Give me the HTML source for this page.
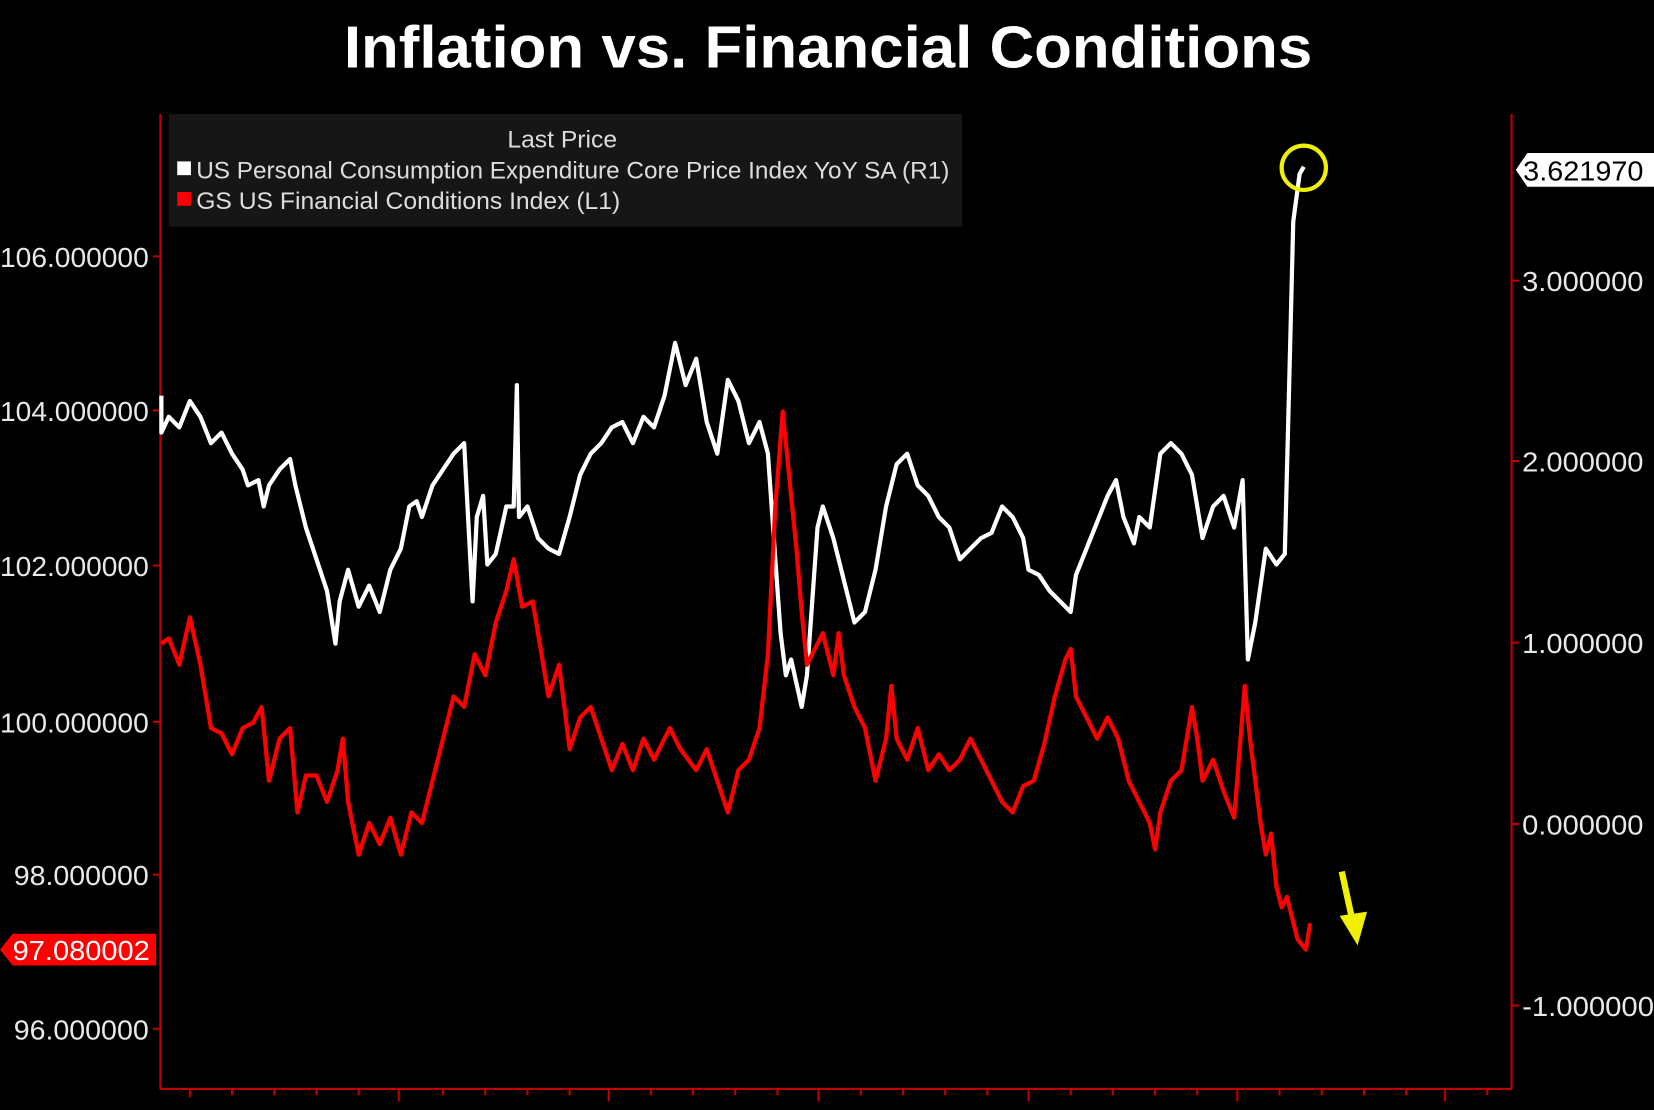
<!DOCTYPE html>
<html><head><style>html,body{margin:0;padding:0;background:#000;overflow:hidden}svg{display:block}</style></head>
<body>
<svg width="1654" height="1110" viewBox="0 0 1568 1052" preserveAspectRatio="none" xmlns="http://www.w3.org/2000/svg">
<rect width="1568" height="1052" fill="#000"/>
<text x="785" y="64" text-anchor="middle" fill="#fff" font-family="Liberation Sans, sans-serif" font-weight="bold" font-size="56" textLength="918" lengthAdjust="spacingAndGlyphs">Inflation vs. Financial Conditions</text>
<!-- axes -->
<line x1="152" y1="108" x2="152" y2="1032" stroke="#c00000" stroke-width="2"/>
<line x1="1433" y1="108" x2="1433" y2="1032" stroke="#c00000" stroke-width="2"/>
<line x1="152" y1="1032" x2="1433" y2="1032" stroke="#c00000" stroke-width="2"/>
<g stroke="#c00000" stroke-width="2">
<line x1="145" y1="243" x2="152" y2="243"/><line x1="145" y1="389" x2="152" y2="389"/><line x1="145" y1="536" x2="152" y2="536"/><line x1="145" y1="684" x2="152" y2="684"/><line x1="145" y1="829" x2="152" y2="829"/><line x1="145" y1="975" x2="152" y2="975"/>
<line x1="1433" y1="266" x2="1440" y2="266"/><line x1="1433" y1="437" x2="1440" y2="437"/><line x1="1433" y1="609" x2="1440" y2="609"/><line x1="1433" y1="781" x2="1440" y2="781"/><line x1="1433" y1="953" x2="1440" y2="953"/>
<line x1="180" y1="1032" x2="180" y2="1040"/><line x1="220" y1="1032" x2="220" y2="1038"/><line x1="260" y1="1032" x2="260" y2="1038"/><line x1="300" y1="1032" x2="300" y2="1038"/><line x1="340" y1="1032" x2="340" y2="1038"/><line x1="378" y1="1032" x2="378" y2="1044"/>
<line x1="420" y1="1032" x2="420" y2="1038"/><line x1="460" y1="1032" x2="460" y2="1038"/><line x1="500" y1="1032" x2="500" y2="1038"/><line x1="540" y1="1032" x2="540" y2="1038"/><line x1="577" y1="1032" x2="577" y2="1044"/>
<line x1="617" y1="1032" x2="617" y2="1038"/><line x1="657" y1="1032" x2="657" y2="1038"/><line x1="697" y1="1032" x2="697" y2="1038"/><line x1="737" y1="1032" x2="737" y2="1038"/><line x1="776" y1="1032" x2="776" y2="1044"/>
<line x1="816" y1="1032" x2="816" y2="1038"/><line x1="856" y1="1032" x2="856" y2="1038"/><line x1="896" y1="1032" x2="896" y2="1038"/><line x1="936" y1="1032" x2="936" y2="1038"/><line x1="975" y1="1032" x2="975" y2="1044"/>
<line x1="1015" y1="1032" x2="1015" y2="1038"/><line x1="1055" y1="1032" x2="1055" y2="1038"/><line x1="1095" y1="1032" x2="1095" y2="1038"/><line x1="1135" y1="1032" x2="1135" y2="1038"/><line x1="1173" y1="1032" x2="1173" y2="1044"/>
<line x1="1213" y1="1032" x2="1213" y2="1038"/><line x1="1253" y1="1032" x2="1253" y2="1038"/><line x1="1293" y1="1032" x2="1293" y2="1038"/><line x1="1333" y1="1032" x2="1333" y2="1038"/><line x1="1370" y1="1032" x2="1370" y2="1044"/><line x1="1410" y1="1032" x2="1410" y2="1038"/>
</g>
<g fill="#e8e8e8" font-family="Liberation Sans, sans-serif" font-size="26" lengthAdjust="spacingAndGlyphs">
<text x="0" y="253" textLength="141" lengthAdjust="spacingAndGlyphs">106.000000</text><text x="0" y="399" textLength="141" lengthAdjust="spacingAndGlyphs">104.000000</text><text x="0" y="546" textLength="141" lengthAdjust="spacingAndGlyphs">102.000000</text><text x="0" y="694" textLength="141" lengthAdjust="spacingAndGlyphs">100.000000</text><text x="13" y="839" textLength="128" lengthAdjust="spacingAndGlyphs">98.000000</text><text x="13" y="985" textLength="128" lengthAdjust="spacingAndGlyphs">96.000000</text>
</g>
<g fill="#e8e8e8" font-family="Liberation Sans, sans-serif" font-size="26">
<text x="1443" y="276" textLength="115" lengthAdjust="spacingAndGlyphs">3.000000</text><text x="1443" y="447" textLength="115" lengthAdjust="spacingAndGlyphs">2.000000</text><text x="1443" y="619" textLength="115" lengthAdjust="spacingAndGlyphs">1.000000</text><text x="1443" y="791" textLength="115" lengthAdjust="spacingAndGlyphs">0.000000</text><text x="1443" y="963" textLength="125" lengthAdjust="spacingAndGlyphs">-1.000000</text>
</g>
<!-- legend -->
<rect x="160" y="108" width="752" height="107" fill="#161616"/>
<text x="533" y="140" text-anchor="middle" fill="#ddd" font-family="Liberation Sans, sans-serif" font-size="23" textLength="104" lengthAdjust="spacingAndGlyphs">Last Price</text>
<rect x="168" y="153" width="13" height="13" fill="#fff"/>
<text x="186" y="169" fill="#ddd" font-family="Liberation Sans, sans-serif" font-size="23" textLength="714" lengthAdjust="spacingAndGlyphs">US Personal Consumption Expenditure Core Price Index YoY SA  (R1)</text>
<rect x="168" y="182" width="13" height="13" fill="#f00"/>
<text x="186" y="198" fill="#ddd" font-family="Liberation Sans, sans-serif" font-size="23" textLength="402" lengthAdjust="spacingAndGlyphs">GS US Financial Conditions Index  (L1)</text>
<!-- series -->
<polyline fill="none" stroke="#fff" stroke-width="4" stroke-linejoin="round" points="153,375 153,410 160,395 170,405 180,380 190,395 200,420 210,410 220,430 230,445 235,460 245,455 250,480 255,460 265,445 275,435 280,460 290,500 300,530 310,560 318,610 322,570 330,540 340,575 350,555 360,580 370,540 380,520 388,480 395,475 400,490 410,460 420,445 430,430 440,420 448,570 452,490 458,470 462,535 470,525 480,480 487,480 490,365 492,490 500,480 510,510 520,520 530,525 540,490 550,450 560,430 570,420 580,405 590,400 600,420 610,395 620,405 630,375 640,325 650,365 660,340 670,400 680,430 690,360 700,380 710,420 720,400 728,430 735,530 740,600 745,640 750,625 760,670 765,640 770,570 775,500 780,480 790,510 800,550 810,590 820,580 830,540 840,480 850,440 860,430 870,460 880,470 890,490 900,500 910,530 920,520 930,510 940,505 950,480 960,490 970,510 975,540 985,545 995,560 1005,570 1015,580 1020,545 1030,520 1040,495 1050,470 1058,455 1065,490 1075,515 1080,490 1090,500 1100,430 1110,420 1120,430 1130,450 1140,510 1150,480 1160,470 1170,500 1178,455 1183,625 1190,590 1200,520 1210,535 1218,525 1222,370 1226,210 1232,165 1236,158"/>
<polyline fill="none" stroke="#ff0000" stroke-width="4" stroke-linejoin="round" points="153,610 160,605 170,630 180,585 190,630 200,690 210,695 220,715 230,690 240,685 248,670 255,740 265,700 275,690 282,770 290,735 300,735 310,760 320,730 325,700 330,760 340,810 350,780 360,800 370,775 380,810 390,770 400,780 410,740 420,700 430,660 440,670 450,620 460,640 470,590 480,560 487,530 495,575 505,570 515,630 520,660 530,630 540,710 550,680 560,670 570,700 580,730 590,705 600,730 610,700 620,720 635,690 645,710 660,730 670,710 680,740 690,770 700,730 710,720 720,690 728,620 735,480 742,390 748,450 755,520 760,580 765,630 770,620 780,600 790,640 795,600 800,640 810,670 820,690 830,740 840,700 845,650 850,700 860,720 870,690 880,730 890,715 900,730 910,720 920,700 930,720 940,740 950,760 960,770 970,745 980,740 990,705 1000,660 1010,625 1015,615 1020,660 1030,680 1040,700 1050,680 1060,700 1070,740 1080,760 1090,780 1095,805 1100,770 1110,740 1120,730 1130,670 1135,700 1140,740 1150,720 1160,750 1170,775 1180,650 1185,700 1190,740 1195,780 1200,810 1205,790 1210,840 1215,860 1220,850 1230,890 1238,900 1242,875"/>
<!-- annotations -->
<circle cx="1236" cy="159" r="21" fill="none" stroke="#f0f000" stroke-width="4"/>
<line x1="1272" y1="826" x2="1282" y2="872" stroke="#f0f000" stroke-width="6"/>
<polygon points="1270,868 1296,864 1287,896" fill="#f0f000"/>
<!-- value labels -->
<polygon points="12,885 148,885 148,915 12,915 0,900" fill="#ff0000"/>
<text x="12" y="910" fill="#fff" font-family="Liberation Sans, sans-serif" font-size="26" textLength="130" lengthAdjust="spacingAndGlyphs">97.080002</text>
<polygon points="1448,145 1568,145 1568,177 1448,177 1437,161" fill="#fff"/>
<text x="1444" y="171" fill="#000" font-family="Liberation Sans, sans-serif" font-size="26" textLength="114" lengthAdjust="spacingAndGlyphs">3.621970</text>
</svg>
</body></html>
